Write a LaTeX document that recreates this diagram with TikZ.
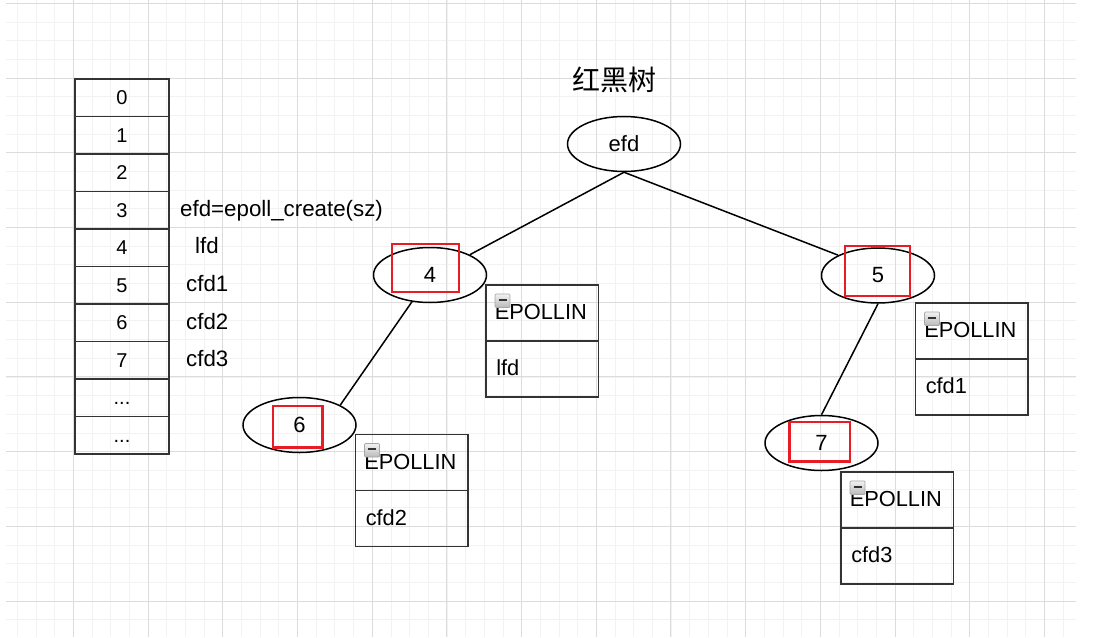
\documentclass[tikz,border=0pt]{standalone}
\usepackage{fontspec}
\setmainfont{Liberation Sans}
\newfontfamily\cjk{Noto Sans CJK SC}
\usetikzlibrary{shapes.geometric}
\definecolor{gmajor}{RGB}{220,220,220}
\definecolor{gminor}{RGB}{242,242,242}
\definecolor{framegray}{RGB}{51,51,51}
\definecolor{redmark}{RGB}{232,28,36}
\begin{document}
\begin{tikzpicture}[x=1pt,y=-1pt,
 cell/.style={draw=framegray, line width=1.9pt, minimum width=94pt, minimum height=37.5pt, inner sep=0pt, text height=14.3pt, text depth=0pt, font=\fontsize{20}{24}\selectfont},
 sidelab/.style={anchor=base west, inner sep=0pt, font=\fontsize{22.3}{26}\selectfont},
 tnode/.style={draw=black, line width=1.5pt, ellipse, minimum width=113pt, minimum height=55pt, inner sep=0pt, font=\fontsize{22}{26}\selectfont},
 epbox/.style={draw=framegray, line width=1.9pt, minimum width=112.5pt, minimum height=112pt, inner sep=0pt},
 boxtxt/.style={anchor=west, inner sep=0pt, font=\fontsize{21.8}{25}\selectfont},
 redbox/.style={draw=redmark, line width=2.6pt},
 treeedge/.style={draw=black, line width=1.5pt},
 minusicon/.pic={
   \draw[gray!70, line width=0.7pt, top color=gray!10, bottom color=gray!55, rounded corners=1pt] (0,0) rectangle (15,13.5);
   \draw[black!80, line width=2pt] (3.5,5.8) -- (11.5,5.8);
 }
]
\useasboundingbox (0,0) rectangle (1097,637);
\fill[white] (0,0) rectangle (1097,637);
% grid
\foreach \i in {0,...,56} {\draw[gminor, line width=0.8pt] ({17.5+\i*18.67},0) -- ({17.5+\i*18.67},637);}
\foreach \j in {0,...,33} {\draw[gminor, line width=0.8pt] (6,{3.3+\j*18.68}) -- (1076,{3.3+\j*18.68});}
\foreach \i in {0,...,13} {\draw[gmajor, line width=0.9pt] ({73.5+\i*74.68},0) -- ({73.5+\i*74.68},637);}
\foreach \j in {0,...,8} {\draw[gmajor, line width=0.9pt] (6,{3.3+\j*74.72}) -- (1076,{3.3+\j*74.72});}

% table
\foreach \k in {0,1,2,3,4,5,6,7} {
  \node[cell] (r\k) at (122,{79+(\k+0.5)*37.5}) {\k};
}
\node[cell] (r8) at (122,{79+8.5*37.5}) {...};
\node[cell] (r9) at (122,{79+9.5*37.5}) {...};
\node[sidelab] (l3) at (180,216.5) {efd=epoll\_create(sz)};
\node[sidelab] (l4) at (195,253.5) {lfd};
\node[sidelab] (l5) at (186,291.5) {cfd1};
\node[sidelab] (l6) at (186,329) {cfd2};
\node[sidelab] (l7) at (186,366.5) {cfd3};

% title
\node[font=\cjk\fontsize{28}{32}\selectfont, inner sep=0pt] (title) at (614.5,79.5) {红黑树};

% tree
\node[tnode] (efd) at (624,144) {efd};
\node[tnode] (n4) at (430,275) {4};
\node[tnode] (n5) at (878,275.5) {5};
\node[tnode] (n6) at (299.5,425) {6};
\node[tnode] (n7) at (821.5,443) {7};
\draw[treeedge] (efd.south) -- (n4.27);
\draw[treeedge] (efd.south) -- (n5.153);
\draw[treeedge] (n4.236) -- (n6.26);
\draw[treeedge] (n5.south) -- (n7.north);

% red marks
\draw[redbox] (392,244) rectangle (459,292);
\draw[redbox] (845,246) rectangle (910,296);
\draw[redbox] (273,406) rectangle (322.5,447.5);
\draw[redbox] (789.5,422) rectangle (850,461.5);

% EPOLLIN boxes
\foreach \b/\cx/\cy/\lab in {b1/542.25/341/lfd, b2/411.75/490.5/cfd2, b3/971.75/359/cfd1, b4/897.25/528/cfd3} {
  \node[epbox] (\b) at (\cx,\cy) {};
  \draw[framegray, line width=1.9pt] (\b.west) -- (\b.east);
  \node[boxtxt] (\b t) at ([shift={(9.5,28)}]\b.north west) {EPOLLIN};
  \node[boxtxt] (\b v) at ([shift={(11,84)}]\b.north west) {\lab};
  \pic at ([shift={(10,10)}]\b.north west) {minusicon};
}
\end{tikzpicture}
\end{document}
